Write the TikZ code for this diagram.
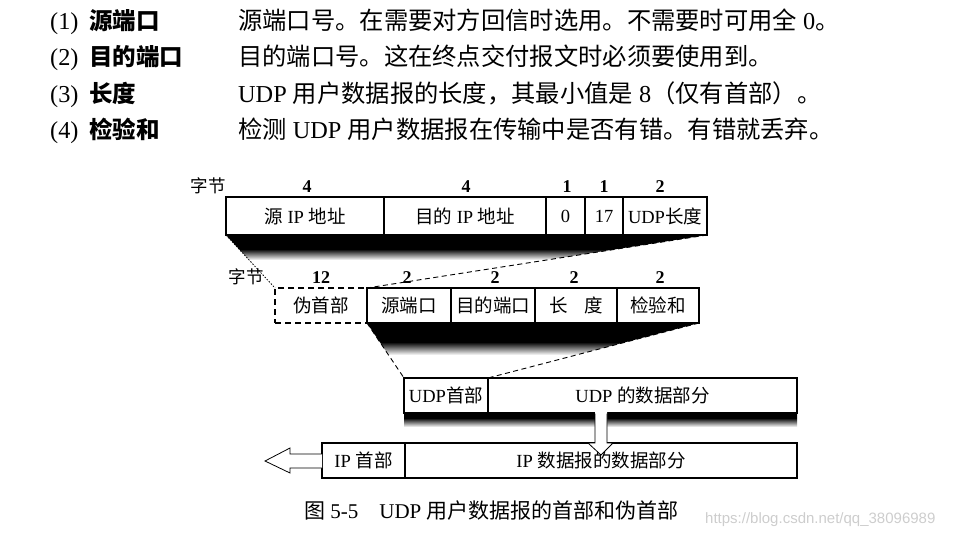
\documentclass[tikz,border=0pt]{standalone}
\usepackage{fontspec}
\setmainfont{Liberation Serif}
\newfontfamily\cjk{Noto Sans CJK SC}
\newfontfamily\wmfont{Liberation Sans}
\newcommand{\C}[1]{{\cjk #1}}
\definecolor{wmgray}{RGB}{205,205,205}
\begin{document}
\begin{tikzpicture}[x=1pt,y=-1pt,
  cell/.style={draw, line width=1.1pt, anchor=north west, inner sep=0pt, outer sep=0pt, font=\fontsize{18.5}{20}\selectfont},
  rowA/.style={cell, minimum height=38pt},
  rowB/.style={cell, minimum height=35pt},
  lab/.style={anchor=base, inner sep=0pt, font=\fontsize{18}{20}\selectfont\bfseries},
  zj/.style={anchor=base, inner sep=0pt, font=\fontsize{17.5}{20}\selectfont\cjk},
  topl/.style={anchor=base west, inner sep=0pt, font=\fontsize{24.3}{28}\selectfont},
  topb/.style={anchor=base west, inner sep=0pt, font=\fontsize{23.5}{28}\selectfont\cjk\bfseries},
  fanedge/.style={line width=0.9pt, dash pattern=on 5pt off 3.5pt},
  dotedge/.style={line width=0.8pt, dash pattern=on 1.5pt off 1.5pt},
  blockarrow/.style={line width=0.8pt}]
\useasboundingbox (0,0) rectangle (959,536);

% ---------- top explanatory lines ----------
\node[topl] (n1) at (50,29) {(1)};
\node[topb] (k1) at (89,29) {源端口};
\node[topl] (t1) at (238,29) {\C{源端口号。在需要对方回信时选用。不需要时可用全} 0\C{。}};
\node[topl] (n2) at (50,65.5) {(2)};
\node[topb] (k2) at (89,65.5) {目的端口};
\node[topl] (t2) at (238,65.5) {\C{目的端口号。这在终点交付报文时必须要使用到。}};
\node[topl] (n3) at (50,102) {(3)};
\node[topb] (k3) at (89,102) {长度};
\node[topl] (t3) at (238,102) {UDP \C{用户数据报的长度，其最小值是} 8\C{（仅有首部）。}};
\node[topl] (n4) at (50,138.5) {(4)};
\node[topb] (k4) at (89,138.5) {检验和};
\node[topl] (t4) at (238,138.5) {\C{检测} UDP \C{用户数据报在传输中是否有错。有错就丢弃。}};

% ---------- shadows (fans) ----------
\begin{scope}
  \clip (226,235) -- (707,235) -- (367,288) -- (275,288) -- cycle;
  \fill[black] (220,234) rectangle (710,249);
  \shade[top color=black, bottom color=white] (220,249) rectangle (710,260);
\end{scope}
\begin{scope}
  \clip (367,323) -- (699,323) -- (488,378) -- (404,378) -- cycle;
  \fill[black] (360,322) rectangle (705,342);
  \shade[top color=black, bottom color=white] (360,342) rectangle (705,355);
\end{scope}
\begin{scope}
  \clip (404,413) rectangle (797,443);
  \fill[black] (400,412) rectangle (800,418);
  \shade[top color=black, bottom color=white] (400,418) rectangle (800,427);
\end{scope}

% ---------- row A : IP pseudo header fields ----------
\node[zj] (zjA) at (208,192) {字节};
\node[lab] (lA1) at (307,192) {4};
\node[lab] (lA2) at (466,192) {4};
\node[lab] (lA3) at (567,192) {1};
\node[lab] (lA4) at (604,192) {1};
\node[lab] (lA5) at (660,192) {2};
\node[rowA, minimum width=158pt] (a1) at (226,197) {\C{源} IP \C{地址}};
\node[rowA, minimum width=162pt] (a2) at (384,197) {\C{目的} IP \C{地址}};
\node[rowA, minimum width=39pt] (a3) at (546,197) {0};
\node[rowA, minimum width=38pt] (a4) at (585,197) {17};
\node[rowA, minimum width=84pt] (a5) at (623,197) {UDP\C{长度}};

% ---------- row B : pseudo header + UDP header ----------
\node[zj] (zjB) at (246,283) {字节};
\node[lab] (lB0) at (321,283) {12};
\node[lab] (lB1) at (407,283) {2};
\node[lab] (lB2) at (495,283) {2};
\node[lab] (lB3) at (574,283) {2};
\node[lab] (lB4) at (660,283) {2};
\node[rowB, minimum width=92pt, line width=1.3pt, dash pattern=on 6pt off 4pt] (b0) at (275,288) {\C{伪首部}};
\node[rowB, minimum width=84pt] (b1) at (367,288) {\C{源端口}};
\node[rowB, minimum width=84pt] (b2) at (451,288) {\C{目的端口}};
\node[rowB, minimum width=82pt] (b3) at (535,288) {\C{长\hspace{17pt}度}};
\node[rowB, minimum width=82pt] (b4) at (617,288) {\C{检验和}};

% ---------- row C : UDP datagram ----------
\node[rowB, minimum width=84pt] (c1) at (404,378) {UDP\C{首部}};
\node[rowB, minimum width=309pt] (c2) at (488,378) {UDP \C{的数据部分}};

% ---------- row D : IP datagram ----------
\node[rowB, minimum width=83pt] (d1) at (322,443) {IP \C{首部}};
\node[rowB, minimum width=392pt] (d2) at (405,443) {IP \C{数据报的数据部分}};

% ---------- fan edges ----------
\draw[dotedge] (a1.south west) -- (b0.north west);
\draw[fanedge] (a5.south east) -- (b1.north west);
\draw[fanedge] (b1.south west) -- (c1.north west);
\draw[fanedge] (b4.south east) -- (c1.north east);

% ---------- block arrows ----------
\fill[white] (595,412) -- (595,443) -- (588,443) -- (601,455) -- (613,443) -- (607,443) -- (607,412) -- cycle;
\draw[blockarrow] (595,413.5) -- (595,443) -- (588,443) -- (601,455) -- (613,443) -- (607,443) -- (607,413.5);
\draw[blockarrow, fill=white] (322,454) -- (290,454) -- (290,448) -- (265,461) -- (290,473) -- (290,468) -- (322,468);

% ---------- caption & watermark ----------
\node[anchor=base west, inner sep=0pt, font=\fontsize{21}{24}\selectfont] (cap) at (304,518) {\C{图} 5-5\hspace{21pt}UDP \C{用户数据报的首部和伪首部}};
\node[anchor=base west, inner sep=0pt, font=\fontsize{15}{18}\selectfont\wmfont, text=wmgray] (wm) at (705,523) {https://blog.csdn.net/qq\_38096989};
\end{tikzpicture}
\end{document}
